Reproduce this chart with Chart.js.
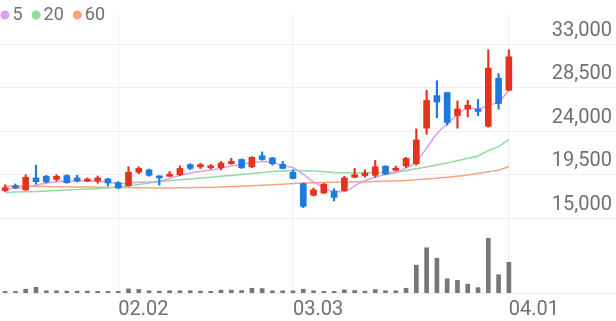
<!DOCTYPE html>
<html>
<head>
<meta charset="utf-8">
<script src="https://cdn.jsdelivr.net/npm/chart.js"></script>
<style>
  html, body { margin: 0; padding: 0; background: #fff; }
  #wrap { position: relative; width: 616px; height: 321px; }
</style>
</head>
<body>
<div id="wrap"><canvas id="chart"></canvas></div>
<script>
// daily candles, 01.16 ~ 04.01
var dates = ['01.16','01.19','01.20','01.21','01.22','01.23','01.26','01.27','01.28','01.29',
  '01.30','02.02','02.03','02.04','02.05','02.06','02.09','02.10','02.11','02.12',
  '02.13','02.19','02.20','02.23','02.24','02.25','02.26','02.27','03.03','03.04',
  '03.05','03.06','03.09','03.10','03.11','03.12','03.13','03.16','03.17','03.18',
  '03.19','03.20','03.23','03.24','03.25','03.26','03.27','03.30','03.31','04.01'];
var openP = [17850,18280,17920,19160,19330,19000,19400,19160,18840,18840,
  19060,18670,18345,19750,19990,19330,19330,19495,20540,20310,
  20215,20215,20640,21070,20310,21460,21225,20575,19750,18570,
  17360,17590,17785,17850,19230,19400,19430,20380,19950,20410,
  20640,24315,27690,28015,25625,26310,26280,24510,29490,28250];
var highP = [18440,18540,19495,20480,19430,19495,19500,19430,19160,19360,
  19130,18770,20310,20310,20085,19380,19820,20410,20640,20675,
  20540,20870,21195,21130,21365,21855,21295,20870,19990,18640,
  18120,18570,18050,19330,20145,19990,20970,20410,20380,21295,
  24245,28250,29230,28030,27130,27195,27295,32440,29980,32440];
var lowP = [17750,18050,17850,18510,18640,18840,18610,18740,18770,18610,
  18315,18050,18295,19595,19330,18410,19300,19400,19990,20145,
  20085,19990,20575,20145,20215,21000,20480,20085,19060,16080,
  17290,17530,16770,17785,19160,19230,19230,19495,19890,20215,
  20480,23685,25395,24640,24315,25495,25625,24415,26280,28180];
var closeP = [18150,18150,19230,18770,18740,19330,18670,18840,19000,19160,
  18640,18120,19750,20145,19430,19160,19495,20145,20145,20540,
  20380,20705,20870,20215,21295,21070,20640,20145,19100,16210,
  17920,18510,17135,19160,19495,19655,20310,19555,20145,21195,
  23095,27195,27030,24905,26310,26705,26045,30540,26870,31720];
var ma5 = [18020,18080,18180,18410,18610,18770,18840,18840,18840,18810,
  18710,18570,18610,18710,18740,18810,19100,19430,19650,19820,
  19990,20150,20410,20580,20740,20870,20800,20410,20210,19520,
  18740,18150,17750,17750,18340,18890,19230,19520,19720,20210,
  20800,22280,23750,24740,25720,26380,26310,26700,27030,28250];
var ma20 = [17660,17690,17720,17750,17800,17850,17900,17950,18000,18050,
  18130,18230,18340,18490,18640,18760,18870,18980,19060,19150,
  19230,19330,19420,19520,19620,19720,19820,19880,19920,19900,
  19870,19800,19720,19690,19670,19690,19720,19740,19770,19900,
  20110,20300,20510,20720,20950,21190,21440,21980,22430,23160];
var ma60 = [18310,18300,18290,18280,18260,18250,18240,18220,18210,18200,
  18180,18170,18160,18140,18130,18120,18120,18130,18150,18160,
  18180,18220,18260,18300,18350,18390,18450,18510,18570,18640,
  18670,18690,18720,18740,18760,18770,18790,18820,18850,18890,
  18960,19040,19130,19230,19330,19460,19620,19790,19970,20350];
// volume, thousand shares
var volume = [5,5,12,18,7,7,6,6,6,5,
  5,5,13,11,7,6,7,7,7,6,
  5,9,9,8,15,14,7,7,7,12,
  7,5,5,10,8,6,11,7,7,15,
  88,143,110,45,40,28,17,173,58,97];
var xTickLabels = ['02.02','03.03','04.01'];
var priceTicks = [15000,19500,24000,28500,33000];

var UP = '#e5321f', DOWN = '#1f7ae0', GRID = '#efefef', TEXT = '#707070';
var yMin = 7230, yMax = 36050;

var candleColor = dates.map(function (d, i) {
  return closeP[i] >= openP[i] ? UP : DOWN;
});

var maLegend = {
  id: 'maLegend',
  afterDraw: function (chart) {
    var ctx = chart.ctx, x = 0.5;
    ctx.save();
    ctx.font = '18px Roboto';
    ctx.textBaseline = 'middle';
    chart.data.datasets.forEach(function (ds) {
      if (ds.type !== 'line') return;
      ctx.fillStyle = ds.borderColor;
      ctx.beginPath();
      ctx.arc(x + 4.5, 15, 4.5, 0, Math.PI * 2);
      ctx.fill();
      ctx.fillStyle = TEXT;
      ctx.fillText(ds.label, x + 12, 15.5);
      x += 12 + ctx.measureText(ds.label).width + 9;
    });
    ctx.restore();
  }
};

function maLine(label, data, color) {
  return {
    type: 'line', label: label, data: data, yAxisID: 'y',
    borderColor: color, borderWidth: 1.5, pointRadius: 0,
    cubicInterpolationMode: 'monotone'
  };
}

new Chart(document.getElementById('chart'), {
  type: 'bar',
  data: {
    labels: dates,
    datasets: [
      {
        label: 'body', yAxisID: 'y', grouped: false,
        data: dates.map(function (d, i) { return [openP[i], closeP[i]]; }),
        backgroundColor: candleColor, barThickness: 6, minBarLength: 2
      },
      {
        label: 'wick', yAxisID: 'y', grouped: false,
        data: dates.map(function (d, i) { return [lowP[i], highP[i]]; }),
        backgroundColor: candleColor, barThickness: 1.5
      },
      maLine('5', ma5, '#d7a1ee'),
      maLine('20', ma20, '#93dba0'),
      maLine('60', ma60, '#f9a47c'),
      {
        label: 'volume', yAxisID: 'v', grouped: false,
        data: volume, backgroundColor: '#777777', barThickness: 4
      }
    ]
  },
  options: {
    responsive: true,
    maintainAspectRatio: false,
    animation: false,
    events: [],
    layout: { padding: { left: 0, right: 4, top: 0, bottom: 0 } },
    plugins: { legend: { display: false }, tooltip: { enabled: false } },
    scales: {
      x: {
        offset: true,
        border: { display: false },
        grid: {
          offset: false,
          drawTicks: false,
          color: function (c) {
            return xTickLabels.indexOf(dates[c.index]) >= 0 ? GRID : 'rgba(0,0,0,0)';
          }
        },
        ticks: {
          autoSkip: false, maxRotation: 0, align: 'start', padding: 5,
          color: TEXT, font: { family: 'Roboto', size: 20 },
          callback: function (v, i) {
            return xTickLabels.indexOf(dates[i]) >= 0 ? dates[i] : '';
          }
        },
        afterFit: function (s) { s.height = 28; }
      },
      y: {
        position: 'right', min: yMin, max: yMax,
        border: { display: false },
        grid: { color: GRID, tickLength: 102 },
        afterBuildTicks: function (s) {
          s.ticks = [yMin].concat(priceTicks).map(function (v) { return { value: v }; });
        },
        afterFit: function (s) { s.width = 98; },
        ticks: {
          crossAlign: 'far', labelOffset: -13.5,
          color: TEXT, font: { family: 'Roboto', size: 20 },
          callback: function (v) { return v === yMin ? '' : v.toLocaleString('en-US'); }
        }
      },
      v: { display: false, min: 0, max: 879 }
    }
  },
  plugins: [maLegend]
});
</script>
</body>
</html>
